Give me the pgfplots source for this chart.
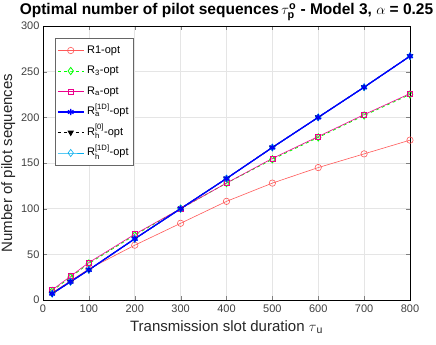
\documentclass[border=0pt]{standalone}
\usepackage{pgfplots}
\pgfplotsset{compat=1.18}
\usepackage{amsmath}
\usepackage{fontspec}
\setmainfont{Liberation Sans}
\definecolor{lred}{rgb}{1,0.35,0.35}
\begin{document}
\begin{tikzpicture}
% page = 436 x 345, axis box at 43..410 x, 26..300 y from top-left
\path[use as bounding box] (-43pt,-45pt) rectangle (393pt,300pt);
\begin{axis}[scale only axis,width=367pt,height=274pt,at={(0,0)},anchor=south west,
 xmin=0,xmax=800,ymin=0,ymax=300,
 xtick={0,100,...,800},ytick={0,50,...,300},
 tick align=inside,major tick length=4pt,
 xmajorgrids,ymajorgrids,grid style={gray!20,line width=0.5pt},
 axis line style={line width=0.5pt},
 tick label style={font=\fontsize{11}{12}\selectfont,text=black!75},
 xticklabel style={yshift=-1pt},
 /pgf/number format/assume math mode=true,
 xlabel={Transmission slot duration $\tau$\textsubscript{u}},
 ylabel={Number of pilot sequences},
 label style={font=\fontsize{15}{17}\selectfont,text=black!85},
 xlabel style={yshift=-1pt},ylabel style={yshift=-1pt},
 title={\textbf{Optimal number of pilot sequences}$\,\tau^{\textbf{o}}_{\textbf{p}}$ \textbf{- Model 3,} $\alpha$ \textbf{= 0.25}},
 title style={font=\fontsize{15.5}{17}\selectfont,yshift=-4pt},
 legend style={at={(0.033,0.956)},anchor=north west,font=\fontsize{11}{13}\selectfont,draw=black!60,
  row sep=0pt,inner sep=2pt,nodes={text height=10pt,text depth=4.5pt,inner sep=3pt}},
 legend image code/.code={\draw[mark repeat=2,mark phase=2,#1] plot coordinates {(0cm,0cm)(0.45cm,0cm)(0.9cm,0cm)};},
 legend cell align=left]
\addplot[lred,mark=o,mark size=3.2pt,line width=0.6pt] coordinates {(20,8)(60,21)(100,34)(200,60)(300,84)(400,108)(500,128)(600,145)(700,160)(800,175)};
\addlegendentry{R1-opt}
\addplot[green,dashed,mark=diamond,mark size=3.6pt,line width=0.8pt,mark options={solid}] coordinates {(20,10)(60,25)(100,40)(200,71)(300,100)(400,128)(500,154)(600,178)(700,202)(800,225)};
\addlegendentry{R$_{\text{3}}$-opt}
\addplot[magenta,mark=square,mark size=2.5pt,line width=0.6pt] coordinates {(20,11)(60,26)(100,41)(200,72)(300,100)(400,128)(500,155)(600,179)(700,203)(800,226)};
\addlegendentry{R$_{\text{a}}$-opt}
\addplot[blue,mark=asterisk,mark size=3.2pt,line width=1.2pt] coordinates {(20,7)(60,20)(100,33)(200,67)(300,100)(400,133)(500,167)(600,200)(700,233)(800,267)};
\addlegendentry{R$^{\text{[1D]}}_{\text{a}}$-opt}
\addplot[black,dashed,mark=triangle*,mark size=3pt,line width=0.8pt,mark options={solid,rotate=180}] coordinates {(20,7)(60,20)(100,33)(200,67)(300,100)(400,133)(500,167)(600,200)(700,233)(800,267)};
\addlegendentry{R$^{\text{[0]}}_{\text{h}}$-opt}
\addplot[cyan,mark=diamond,mark size=3.6pt,line width=0.6pt] coordinates {(20,7)(60,20)(100,33)(200,67)(300,100)(400,133)(500,167)(600,200)(700,233)(800,267)};
\addlegendentry{R$^{\text{[1D]}}_{\text{h}}$-opt}
\addplot[blue,mark=asterisk,mark size=3.2pt,line width=1.2pt,forget plot] coordinates {(20,7)(60,20)(100,33)(200,67)(300,100)(400,133)(500,167)(600,200)(700,233)(800,267)};
\end{axis}
\end{tikzpicture}
\end{document}
